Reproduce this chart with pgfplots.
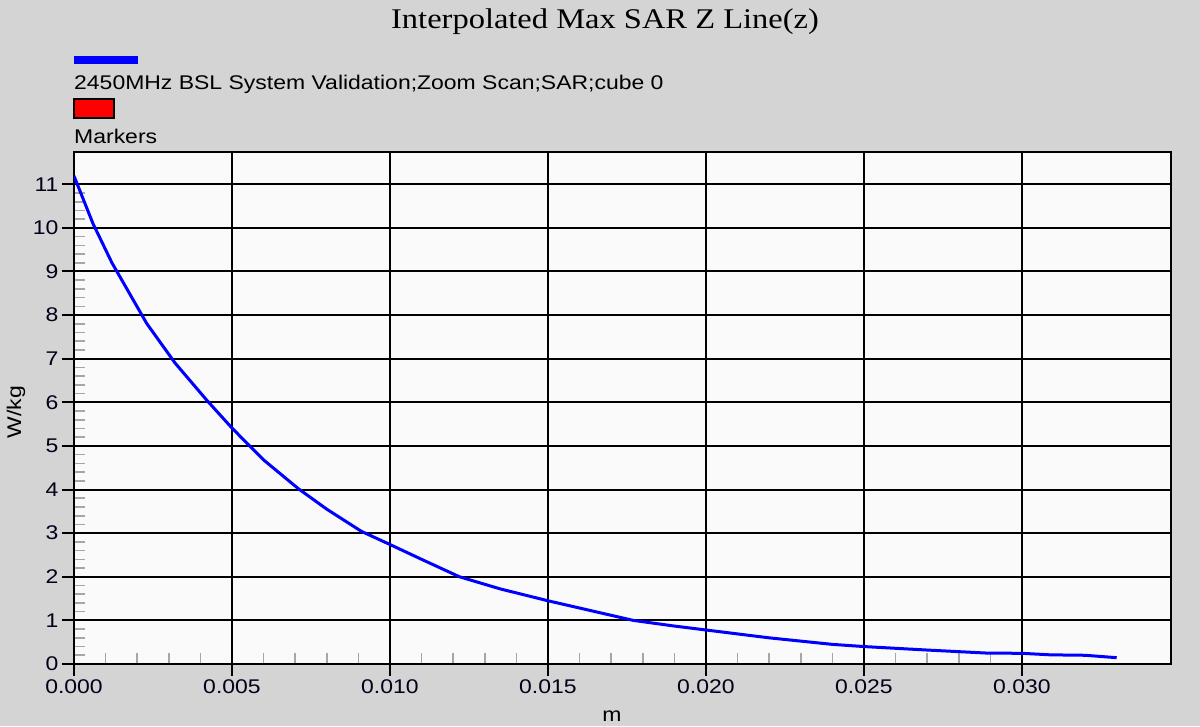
\documentclass[border=0pt]{standalone}
\usepackage{fontspec}
\setmainfont[FakeStretch=1.16]{Liberation Sans}
\newfontfamily\titlefont[FakeStretch=1.14]{Liberation Serif}
\usepackage{pgfplots}
\pgfplotsset{compat=1.18}
\definecolor{bggray}{HTML}{D4D4D4}
\definecolor{plotbg}{HTML}{FAFAFA}
\definecolor{curve}{HTML}{0000FF}

\begin{document}
\begin{tikzpicture}[x=1pt,y=1pt]
\fill[bggray] (0,0) rectangle (1200,726);
% title and legend (image y measured from top, so 726 - y)
\node[font=\titlefont\fontsize{28.5}{32}\selectfont] at (605,704) {Interpolated Max SAR Z Line(z)};
\fill[curve] (74,662) rectangle (138,670);
\node[anchor=west, inner sep=0pt, font=\fontsize{19.8}{24}\selectfont] at (74,642) {2450MHz BSL System Validation;Zoom Scan;SAR;cube 0};
\filldraw[fill=red, draw=black, line width=1.2pt] (74,608) rectangle (114,627);
\node[anchor=west, inner sep=0pt, font=\fontsize{19.8}{24}\selectfont] at (74,590) {Markers};
\node[rotate=90, font=\fontsize{19.8}{24}\selectfont] at (16,314) {W/kg};
\node[font=\fontsize{19.8}{24}\selectfont] at (612,10) {m};

\begin{axis}[
  at={(74pt,62pt)}, anchor=south west,
  scale only axis, width=1097pt, height=512pt,
  xmin=0, xmax=0.03472, ymin=0, ymax=11.74,
  xtick={0,0.005,...,0.0301}, ytick={0,1,...,11},
  minor x tick num=4, minor y tick num=4,
  xtick pos=bottom, ytick pos=left,
  tick align=outside,
  major tick length=12pt, minor tick length=-11pt,
  major tick style={black, line width=2pt},
  minor tick style={black!35, line width=1.6pt},
  grid=major, major grid style={black, line width=2pt},
  axis line style={black, line width=2pt},
  axis background/.style={fill=plotbg},
  scaled x ticks=false,
  /pgf/number format/assume math mode=true,
  xticklabel style={/pgf/number format/fixed, /pgf/number format/fixed zerofill, /pgf/number format/precision=3},
  ticklabel style={font=\fontsize{19.8}{24}\selectfont, text=black!90!blue},
]
\addplot[curve, line width=3pt] coordinates {
  (0.0000, 11.19) (0.0006, 10.10) (0.0012, 9.20) (0.0023, 7.81)
  (0.0032, 6.90) (0.0042, 6.05) (0.0050, 5.41) (0.0060, 4.68)
  (0.0071, 4.02) (0.0080, 3.55) (0.0091, 3.04) (0.0100, 2.74)
  (0.0110, 2.40) (0.0122, 2.00) (0.0135, 1.72) (0.0150, 1.45)
  (0.0165, 1.20) (0.0177, 1.00) (0.0190, 0.87) (0.0200, 0.78)
  (0.0220, 0.60) (0.0240, 0.45) (0.0250, 0.40) (0.0270, 0.32)
  (0.0289, 0.25) (0.0300, 0.245) (0.0309, 0.21) (0.0320, 0.20)
  (0.0330, 0.145)
};
\end{axis}
\end{tikzpicture}
\end{document}
